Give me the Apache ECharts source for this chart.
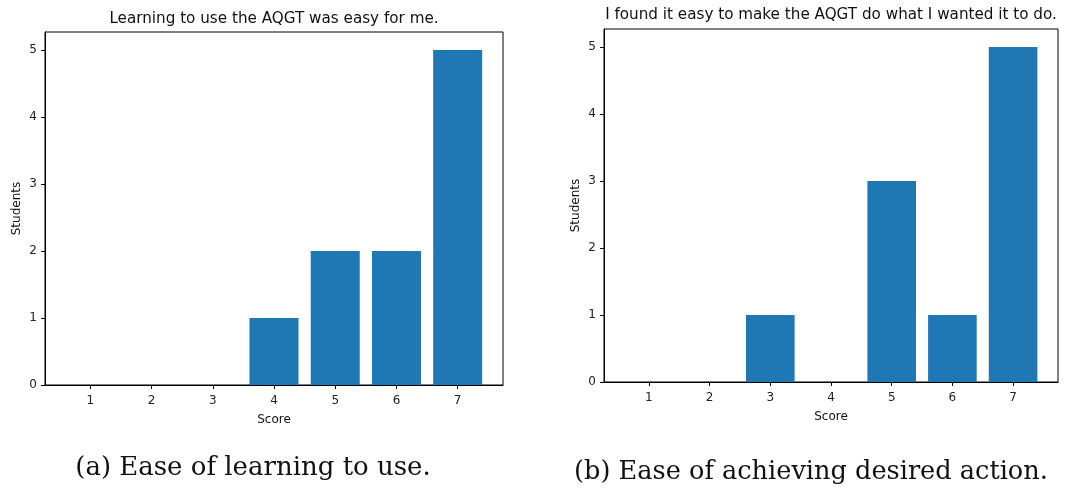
<!DOCTYPE html>
<html>
<head>
<meta charset="utf-8">
<script src="https://cdn.jsdelivr.net/npm/echarts@6/dist/echarts.min.js"></script>
<style>html,body{margin:0;padding:0;background:#fff}#c{width:1084px;height:491px}</style>
</head>
<body>
<div id="c"></div>
<script>
const scores = [1, 2, 3, 4, 5, 6, 7];
const learningCounts = [0, 0, 0, 1, 2, 2, 5];
const actionCounts = [0, 0, 1, 0, 3, 1, 5];
const yTicks = [0, 1, 2, 3, 4, 5];
const titleA = 'Learning to use the AQGT was easy for me.';
const titleB = 'I found it easy to make the AQGT do what I wanted it to do.';
const captionA = '(a) Ease of learning to use.';
const captionB = '(b) Ease of achieving desired action.';

const chart = echarts.init(document.getElementById('c'), null, {renderer: 'canvas'});
const FONT = 'DejaVu Sans';
const grids = [
  {left: 45, top: 32, width: 458, height: 353},
  {left: 604, top: 29, width: 454, height: 353}
];
function xAxis(i) {
  return {
    type: 'value', gridIndex: i, min: 0.26, max: 7.74,
    name: 'Score', nameLocation: 'middle', nameGap: 29,
    nameTextStyle: {fontFamily: FONT, fontSize: 12, color: '#111'},
    axisLine: {show: true, lineStyle: {color: '#000', width: 1}},
    axisTick: {show: true, length: 4, lineStyle: {color: '#000'}, customValues: scores},
    axisLabel: {fontFamily: FONT, fontSize: 12, color: '#222', margin: 10, customValues: scores},
    splitLine: {show: false}
  };
}
function yAxis(i) {
  return {
    type: 'value', gridIndex: i, min: 0, max: 5.27,
    name: 'Students', nameLocation: 'middle', nameGap: 22,
    nameTextStyle: {fontFamily: FONT, fontSize: 12, color: '#111'},
    axisLine: {show: true, lineStyle: {color: '#000', width: 1}},
    axisTick: {show: true, length: 4, lineStyle: {color: '#000'}, customValues: yTicks},
    axisLabel: {fontFamily: FONT, fontSize: 12, color: '#222', margin: 8, customValues: yTicks},
    splitLine: {show: false}
  };
}
function barSeries(i, vals, w) {
  return {
    type: 'bar', xAxisIndex: i, yAxisIndex: i,
    data: scores.map((s, k) => [s, vals[k]]),
    barWidth: w,
    itemStyle: {color: '#1f77b4'},
    silent: true, animation: false
  };
}
chart.setOption({
  animation: false,
  grid: grids.map(g => Object.assign({show: true, borderColor: '#000', borderWidth: 1, backgroundColor: 'transparent'}, g)),
  title: [
    {text: titleA, left: 274, top: 12, textAlign: 'center', padding: 0,
     textStyle: {fontFamily: FONT, fontSize: 15.2, fontWeight: 'normal', color: '#111'}},
    {text: titleB, left: 831, top: 8, textAlign: 'center', padding: 0,
     textStyle: {fontFamily: FONT, fontSize: 15.2, fontWeight: 'normal', color: '#111'}},
    {text: captionA, left: 253, top: 455, textAlign: 'center', padding: 0,
     textStyle: {fontFamily: 'DejaVu Serif', fontSize: 26, fontWeight: 'normal', color: '#111'}},
    {text: captionB, left: 811, top: 459, textAlign: 'center', padding: 0,
     textStyle: {fontFamily: 'DejaVu Serif', fontSize: 25.6, fontWeight: 'normal', color: '#111'}}
  ],
  xAxis: [xAxis(0), xAxis(1)],
  yAxis: [yAxis(0), yAxis(1)],
  series: [barSeries(0, learningCounts, 49), barSeries(1, actionCounts, 48.6)]
});
</script>
</body>
</html>
